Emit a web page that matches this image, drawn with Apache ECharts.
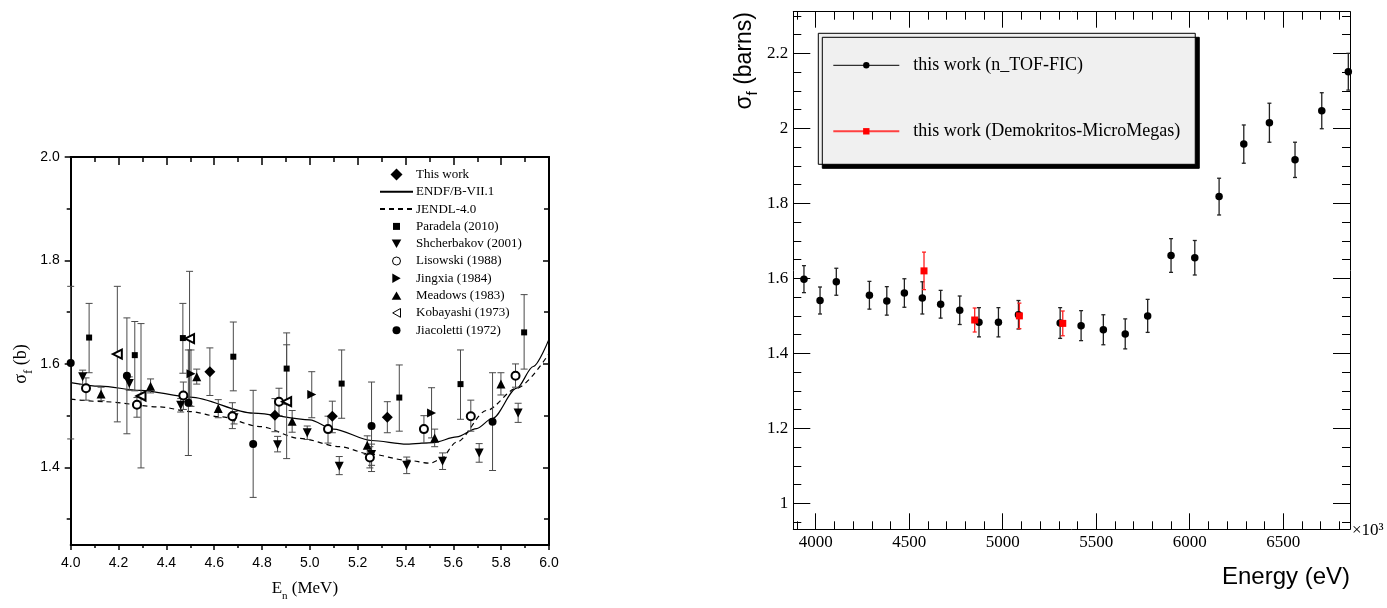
<!DOCTYPE html>
<html>
<head>
<meta charset="utf-8">
<script src="https://cdn.jsdelivr.net/npm/echarts@6/dist/echarts.min.js"></script>
<style>
  html, body { margin: 0; padding: 0; background: #fff; }
  #chart { width: 1387px; height: 608px; }
</style>
</head>
<body>
<div id="chart"></div>
<script>
// ---------- Left panel: fission cross section vs neutron energy (MeV) ----------
// rows: [E_n (MeV), sigma_f (b), lower end of error bar, upper end of error bar]
const thisWork = [
  [4.582, 1.585, 1.539, 1.631],
  [4.854, 1.501, 1.469, 1.533],
  [5.094, 1.499, 1.467, 1.528],
  [5.324, 1.497, 1.467, 1.527]
];
const paradela = [
  [4.077, 1.651, 1.583, 1.717],
  [4.268, 1.617, 1.548, 1.682],
  [4.469, 1.650, 1.582, 1.717],
  [4.680, 1.614, 1.548, 1.681],
  [4.903, 1.591, 1.522, 1.660],
  [5.133, 1.562, 1.495, 1.627],
  [5.374, 1.535, 1.470, 1.598],
  [5.630, 1.561, 1.493, 1.627],
  [5.896, 1.661, 1.590, 1.734]
];
const shcherbakov = [
  [4.050, 1.575, 1.560, 1.588],
  [4.245, 1.562, 1.549, 1.575],
  [4.460, 1.520, 1.507, 1.533],
  [4.683, 1.496, 1.484, 1.508],
  [4.865, 1.444, 1.430, 1.460],
  [4.989, 1.467, 1.454, 1.480],
  [5.123, 1.402, 1.386, 1.421],
  [5.258, 1.425, 1.404, 1.445],
  [5.405, 1.404, 1.388, 1.420],
  [5.555, 1.412, 1.396, 1.428],
  [5.708, 1.428, 1.410, 1.446],
  [5.871, 1.505, 1.487, 1.524]
];
const lisowski = [
  [4.064, 1.553, 1.530, 1.573],
  [4.277, 1.521, 1.497, 1.535],
  [4.471, 1.539, 1.512, 1.565],
  [4.676, 1.499, 1.475, 1.525],
  [4.871, 1.527, 1.500, 1.553],
  [5.076, 1.474, 1.447, 1.499],
  [5.251, 1.419, 1.399, 1.440],
  [5.477, 1.474, 1.447, 1.500],
  [5.673, 1.499, 1.470, 1.530],
  [5.860, 1.577, 1.555, 1.600]
];
const jingxia = [
  [4.503, 1.581, 1.518, 1.627],
  [5.008, 1.541, 1.496, 1.585],
  [5.509, 1.505, 1.457, 1.554]
];
const meadows = [
  [4.127, 1.542, 1.529, 1.555],
  [4.334, 1.557, 1.544, 1.571],
  [4.527, 1.575, 1.561, 1.590],
  [4.617, 1.514, 1.496, 1.531],
  [4.926, 1.489, 1.468, 1.510],
  [5.240, 1.443, 1.425, 1.461],
  [5.522, 1.457, 1.440, 1.474],
  [5.799, 1.561, 1.540, 1.583]
];
const kobayashi = [
  [4.195, 1.619, 1.488, 1.750],
  [4.294, 1.538, 1.399, 1.678],
  [4.497, 1.649, 1.519, 1.779],
  [4.903, 1.527, 1.417, 1.637]
];
const jiacoletti = [
  [4.000, 1.602, 1.455, 1.750],
  [4.235, 1.577, 1.465, 1.689],
  [4.492, 1.525, 1.423, 1.627],
  [4.763, 1.445, 1.342, 1.549],
  [5.258, 1.480, 1.392, 1.565],
  [5.764, 1.488, 1.394, 1.583]
];
// evaluated libraries: [E_n (MeV), sigma_f (b)]
const endfCurve = [
  [4.0, 1.564], [4.123, 1.557], [4.29, 1.549], [4.5, 1.536], [4.763, 1.505],
  [5.0, 1.492], [5.098, 1.474], [5.258, 1.452], [5.405, 1.445], [5.516, 1.448],
  [5.614, 1.459], [5.697, 1.475], [5.764, 1.495], [5.865, 1.553], [5.934, 1.595],
  [6.0, 1.648]
];
const jendlCurve = [
  [4.0, 1.532], [4.136, 1.527], [4.373, 1.517], [4.499, 1.508], [4.624, 1.498],
  [4.791, 1.479], [4.959, 1.456], [5.126, 1.440], [5.251, 1.426], [5.405, 1.414],
  [5.502, 1.408], [5.544, 1.415], [5.614, 1.449], [5.739, 1.510], [5.865, 1.553],
  [6.0, 1.620]
];
const leftXTicks = [4.0, 4.2, 4.4, 4.6, 4.8, 5.0, 5.2, 5.4, 5.6, 5.8, 6.0];
const leftYTicks = [1.4, 1.6, 1.8, 2.0];
const leftYMinorTicks = [1.3, 1.5, 1.7, 1.9];

// ---------- Right panel: n_TOF and Demokritos results (energy in eV x10^3) ----------
const ntofEnergy = [3937, 4023, 4110, 4287, 4380, 4474, 4570, 4668, 4770, 4873, 4977, 5084, 5307,
                    5419, 5538, 5655, 5775, 5900, 6027, 6157, 6289, 6426, 6563, 6706, 6848];
const ntofSigma  = [1.598, 1.541, 1.591, 1.555, 1.540, 1.561, 1.548, 1.531, 1.515, 1.483, 1.483, 1.503, 1.481,
                    1.474, 1.463, 1.452, 1.500, 1.661, 1.655, 1.818, 1.958, 2.015, 1.916, 2.047, 2.151];
const ntofError  = [0.036, 0.036, 0.036, 0.037, 0.038, 0.038, 0.043, 0.037, 0.038, 0.039, 0.039, 0.038, 0.041,
                    0.040, 0.040, 0.040, 0.044, 0.045, 0.046, 0.049, 0.051, 0.052, 0.047, 0.048, 0.049];
const mmEnergy = [4579, 4850, 5089, 5321];
const mmSigma  = [1.620, 1.489, 1.500, 1.480];
const mmError  = [0.050, 0.032, 0.034, 0.033];

const rightXTicks = [4000, 4500, 5000, 5500, 6000, 6500];
const rightYTicks = [1, 1.2, 1.4, 1.6, 1.8, 2, 2.2];
const rightXMinorTicks = [];
for (let v = 3900; v <= 6800; v += 100) rightXMinorTicks.push(v);
const rightYMinorTicks = [];
for (let k = 19; k <= 46; k++) rightYMinorTicks.push(Math.round(k * 5) / 100);

// ---------- helpers ----------
const SERIF = "'Liberation Serif', 'Times New Roman', serif";
const SANS = "'Liberation Sans', Arial, sans-serif";
const black = '#000';

// legend glyphs, drawn in a 12x12 box so every icon keeps its own size
const BOX = 'path://M0,0M12,12';
const legendIcons = {
  diamond: BOX + 'M0,6L6,0L12,6L6,12Z',
  square: BOX + 'M2.5,2.5L9.5,2.5L9.5,9.5L2.5,9.5Z',
  down: BOX + 'M1.2,1.8L10.8,1.8L6,10.2Z',
  up: BOX + 'M6,1.8L10.8,10.2L1.2,10.2Z',
  right: BOX + 'M1.8,1.2L10.2,6L1.8,10.8Z',
  left: BOX + 'M10,1.6L2.2,6L10,10.4Z',
  circle: BOX + 'M2,6A4,4,0,1,1,10,6A4,4,0,1,1,2,6Z'
};

function errorBarItem(capHalf, width) {
  return function (params, api) {
    const x = api.value(0);
    const lo = api.coord([x, api.value(1)]);
    const hi = api.coord([x, api.value(2)]);
    const style = { stroke: api.visual('color'), lineWidth: width, fill: null };
    return {
      type: 'group',
      children: [
        { type: 'line', shape: { x1: hi[0], y1: hi[1], x2: lo[0], y2: lo[1] }, style: style },
        { type: 'line', shape: { x1: hi[0] - capHalf, y1: hi[1], x2: hi[0] + capHalf, y2: hi[1] }, style: style },
        { type: 'line', shape: { x1: lo[0] - capHalf, y1: lo[1], x2: lo[0] + capHalf, y2: lo[1] }, style: style }
      ]
    };
  };
}

function leftDataset(name, rows, symbol, size, rotate) {
  const hollow = symbol.indexOf('empty') === 0;
  return [
    {
      type: 'custom', xAxisIndex: 0, yAxisIndex: 0, z: 3, silent: true,
      itemStyle: { color: '#4a4a4a' },
      renderItem: errorBarItem(3.5, 1),
      encode: { x: 0, y: [1, 2] },
      data: rows.map(r => [r[0], r[2], r[3]])
    },
    {
      type: 'scatter', name: name, xAxisIndex: 0, yAxisIndex: 0, z: 5, silent: true,
      symbol: symbol, symbolSize: size, symbolRotate: rotate || 0,
      itemStyle: { color: black, borderColor: black, borderWidth: hollow ? 1 : 0, opacity: 1 },
      data: rows.map(r => [r[0], r[1]])
    }
  ];
}

const leftAxisLine = { show: true, onZero: false, lineStyle: { color: black, width: 2 } };
const rightAxisLine = { show: true, onZero: false, lineStyle: { color: black, width: 1 } };
const hiddenIcon = { color: 'rgba(0,0,0,0)', borderWidth: 0, opacity: 0 };
const filledIcon = { color: black, borderWidth: 0, opacity: 1 };
const hollowIcon = { color: '#fff', borderColor: black, borderWidth: 1, opacity: 1 };

const option = {
  animation: false,
  backgroundColor: '#fff',
  grid: [
    { left: 70.7, top: 157, width: 478.3, height: 388, containLabel: false, outerBoundsMode: 'none' },
    { left: 793.3, top: 11.7, width: 556.7, height: 517.6, containLabel: false, outerBoundsMode: 'none' }
  ],
  xAxis: [
    { // left panel, bottom
      gridIndex: 0, type: 'value', position: 'bottom', min: 4, max: 6, interval: 0.2,
      axisLine: leftAxisLine,
      axisTick: { show: true, inside: false, length: 5, lineStyle: { color: black, width: 1.5 } },
      minorTick: { show: true, splitNumber: 2, length: 3, lineStyle: { color: black, width: 1.5 } },
      splitLine: { show: false }, minorSplitLine: { show: false },
      axisLabel: { customValues: leftXTicks, formatter: v => v.toFixed(1), fontFamily: SANS, fontSize: 14, color: black, margin: 11 },
      name: '{a|E}{b|n}{a| (MeV)}', nameLocation: 'middle', nameGap: 31,
      nameTextStyle: {
        padding: [0, 10, 0, 0],
        rich: {
          a: { fontFamily: SERIF, fontSize: 17, color: black, lineHeight: 26 },
          b: { fontFamily: SERIF, fontSize: 11, color: black, lineHeight: 11, verticalAlign: 'bottom' }
        }
      }
    },
    { // left panel, top mirror
      gridIndex: 0, type: 'value', position: 'top', min: 4, max: 6, interval: 0.2,
      axisLine: leftAxisLine,
      axisTick: { show: true, inside: true, length: 8, lineStyle: { color: black, width: 1.5 } },
      minorTick: { show: true, splitNumber: 2, length: 5, lineStyle: { color: black, width: 1.5 } },
      splitLine: { show: false }, axisLabel: { show: false }
    },
    { // right panel, bottom major
      gridIndex: 1, type: 'value', position: 'bottom', min: 3880, max: 6857,
      axisLine: rightAxisLine,
      axisTick: { show: true, inside: true, length: 16, customValues: rightXTicks, lineStyle: { color: black, width: 1 } },
      splitLine: { show: false },
      axisLabel: { customValues: rightXTicks, formatter: v => String(v), fontFamily: SERIF, fontSize: 17, color: black, margin: 5 }
    },
    { // right panel, bottom minor
      gridIndex: 1, type: 'value', position: 'bottom', min: 3880, max: 6857,
      axisLine: { show: false },
      axisTick: { show: true, inside: true, length: 8, customValues: rightXMinorTicks, lineStyle: { color: black, width: 1 } },
      splitLine: { show: false }, axisLabel: { show: false }
    },
    { // right panel, top major
      gridIndex: 1, type: 'value', position: 'top', min: 3880, max: 6857,
      axisLine: rightAxisLine,
      axisTick: { show: true, inside: true, length: 16, customValues: rightXTicks, lineStyle: { color: black, width: 1 } },
      splitLine: { show: false }, axisLabel: { show: false }
    },
    { // right panel, top minor
      gridIndex: 1, type: 'value', position: 'top', min: 3880, max: 6857,
      axisLine: { show: false },
      axisTick: { show: true, inside: true, length: 8, customValues: rightXMinorTicks, lineStyle: { color: black, width: 1 } },
      splitLine: { show: false }, axisLabel: { show: false }
    }
  ],
  yAxis: [
    { // left panel, left major
      gridIndex: 0, type: 'value', position: 'left', min: 1.25, max: 2.0,
      axisLine: leftAxisLine,
      axisTick: { show: true, inside: false, length: 6, customValues: leftYTicks, lineStyle: { color: black, width: 1.5 } },
      splitLine: { show: false },
      axisLabel: { customValues: leftYTicks, formatter: v => v.toFixed(1), fontFamily: SANS, fontSize: 14, color: black, margin: 11 },
      name: '{a|σ}{b|f}{a| (b)}', nameLocation: 'middle', nameGap: 36, nameRotate: 90,
      nameTextStyle: {
        padding: [0, 26, 0, 0],
        rich: {
          a: { fontFamily: SERIF, fontSize: 18, color: black, lineHeight: 26 },
          b: { fontFamily: SERIF, fontSize: 13, color: black, lineHeight: 13, verticalAlign: 'bottom' }
        }
      }
    },
    { // left panel, left minor
      gridIndex: 0, type: 'value', position: 'left', min: 1.25, max: 2.0,
      axisLine: { show: false },
      axisTick: { show: true, inside: false, length: 4, customValues: leftYMinorTicks, lineStyle: { color: black, width: 1.5 } },
      splitLine: { show: false }, axisLabel: { show: false }
    },
    { // left panel, right mirror major
      gridIndex: 0, type: 'value', position: 'right', min: 1.25, max: 2.0,
      axisLine: leftAxisLine,
      axisTick: { show: true, inside: true, length: 6, customValues: leftYTicks, lineStyle: { color: black, width: 1.5 } },
      splitLine: { show: false }, axisLabel: { show: false }
    },
    { // left panel, right mirror minor
      gridIndex: 0, type: 'value', position: 'right', min: 1.25, max: 2.0,
      axisLine: { show: false },
      axisTick: { show: true, inside: true, length: 5, customValues: leftYMinorTicks, lineStyle: { color: black, width: 1.5 } },
      splitLine: { show: false }, axisLabel: { show: false }
    },
    { // right panel, left major
      gridIndex: 1, type: 'value', position: 'left', min: 0.931, max: 2.311,
      axisLine: rightAxisLine,
      axisTick: { show: true, inside: true, length: 17, customValues: rightYTicks, lineStyle: { color: black, width: 1 } },
      splitLine: { show: false },
      axisLabel: { customValues: rightYTicks, formatter: v => String(v), fontFamily: SERIF, fontSize: 17, color: black, margin: 5 }
    },
    { // right panel, left minor
      gridIndex: 1, type: 'value', position: 'left', min: 0.931, max: 2.311,
      axisLine: { show: false },
      axisTick: { show: true, inside: true, length: 8, customValues: rightYMinorTicks, lineStyle: { color: black, width: 1 } },
      splitLine: { show: false }, axisLabel: { show: false }
    },
    { // right panel, right major
      gridIndex: 1, type: 'value', position: 'right', min: 0.931, max: 2.311,
      axisLine: rightAxisLine,
      axisTick: { show: true, inside: true, length: 17, customValues: rightYTicks, lineStyle: { color: black, width: 1 } },
      splitLine: { show: false }, axisLabel: { show: false }
    },
    { // right panel, right minor
      gridIndex: 1, type: 'value', position: 'right', min: 0.931, max: 2.311,
      axisLine: { show: false },
      axisTick: { show: true, inside: true, length: 8, customValues: rightYMinorTicks, lineStyle: { color: black, width: 1 } },
      splitLine: { show: false }, axisLabel: { show: false }
    }
  ],
  legend: [
    {
      orient: 'vertical', left: 379, top: 167, padding: 0,
      itemWidth: 33, itemHeight: 12, itemGap: 2.3, selectedMode: false, symbolKeepAspect: true,
      textStyle: { fontFamily: SERIF, fontSize: 13, color: black, lineHeight: 15, padding: [0, 0, 0, -2] },
      data: [
        { name: 'This work', icon: legendIcons.diamond, itemStyle: filledIcon },
        { name: 'ENDF/B-VII.1', itemStyle: hiddenIcon },
        { name: 'JENDL-4.0', itemStyle: hiddenIcon },
        { name: 'Paradela (2010)', icon: legendIcons.square, itemStyle: filledIcon },
        { name: 'Shcherbakov (2001)', icon: legendIcons.down, itemStyle: filledIcon },
        { name: 'Lisowski (1988)', icon: legendIcons.circle, itemStyle: hollowIcon },
        { name: 'Jingxia (1984)', icon: legendIcons.right, itemStyle: filledIcon },
        { name: 'Meadows (1983)', icon: legendIcons.up, itemStyle: filledIcon },
        { name: 'Kobayashi (1973)', icon: legendIcons.left, itemStyle: hollowIcon },
        { name: 'Jiacoletti (1972)', icon: legendIcons.circle, itemStyle: filledIcon }
      ]
    },
    {
      orient: 'vertical', left: 818.3, top: 33.3, padding: [22, 15, 23, 14],
      itemWidth: 66, itemHeight: 8, itemGap: 46, selectedMode: false,
      backgroundColor: '#f0f0f0', borderColor: black, borderWidth: 1,
      shadowColor: black, shadowBlur: 0, shadowOffsetX: 4, shadowOffsetY: 4,
      textStyle: { fontFamily: SERIF, fontSize: 18, color: black, lineHeight: 20, padding: [0, 0, 0, 9] },
      data: [
        { name: 'this work (n_TOF-FIC)', lineStyle: { opacity: 1, width: 1, color: black } },
        { name: 'this work (Demokritos-MicroMegas)', lineStyle: { opacity: 1, width: 2, color: '#ff4040' } }
      ]
    }
  ],
  graphic: [
    {
      type: 'text', x: 745, y: 12, rotation: Math.PI / 2, silent: true,
      style: {
        text: '{a|σ}{b|f}{a| (barns)}', align: 'right', verticalAlign: 'middle',
        rich: {
          a: { fontFamily: SANS, fontSize: 23, fill: black, lineHeight: 30 },
          b: { fontFamily: SANS, fontSize: 15, fill: black, lineHeight: 15, verticalAlign: 'bottom' }
        }
      }
    },
    {
      type: 'text', x: 1350, y: 577, silent: true,
      style: { text: 'Energy (eV)', fontFamily: SANS, fontSize: 24, fill: black, align: 'right', verticalAlign: 'middle' }
    },
    {
      type: 'text', x: 1352, y: 531, silent: true,
      style: { text: '×10³', fontFamily: SERIF, fontSize: 17, fill: black, align: 'left', verticalAlign: 'middle' }
    }
  ],
  series: [
    {
      type: 'line', name: 'ENDF/B-VII.1', xAxisIndex: 0, yAxisIndex: 0, z: 2, silent: true,
      data: endfCurve, symbol: 'none', smooth: 0.3, smoothMonotone: 'x',
      lineStyle: { color: black, width: 1.2, type: 'solid' }, itemStyle: { color: black }
    },
    {
      type: 'line', name: 'JENDL-4.0', xAxisIndex: 0, yAxisIndex: 0, z: 2, silent: true,
      data: jendlCurve, symbol: 'none', smooth: 0.3, smoothMonotone: 'x',
      lineStyle: { color: black, width: 1.2, type: [5, 4] }, itemStyle: { color: black }
    },
    ...leftDataset('This work', thisWork, 'diamond', 11),
    ...leftDataset('Paradela (2010)', paradela, 'rect', 6),
    ...leftDataset('Shcherbakov (2001)', shcherbakov, 'triangle', 9, 180),
    ...leftDataset('Lisowski (1988)', lisowski, 'emptyCircle', 8),
    ...leftDataset('Jingxia (1984)', jingxia, 'triangle', 9, -90),
    ...leftDataset('Meadows (1983)', meadows, 'triangle', 9),
    ...leftDataset('Kobayashi (1973)', kobayashi, 'emptyTriangle', 9, 90),
    ...leftDataset('Jiacoletti (1972)', jiacoletti, 'circle', 8),

    {
      type: 'custom', xAxisIndex: 2, yAxisIndex: 4, z: 3, silent: true,
      itemStyle: { color: '#222' },
      renderItem: errorBarItem(2, 1.3),
      encode: { x: 0, y: [1, 2] },
      data: ntofEnergy.map((e, i) => [e, ntofSigma[i] - ntofError[i], ntofSigma[i] + ntofError[i]])
    },
    {
      type: 'line', name: 'this work (n_TOF-FIC)', xAxisIndex: 2, yAxisIndex: 4, z: 5, silent: true,
      data: ntofEnergy.map((e, i) => [e, ntofSigma[i]]),
      symbol: 'circle', symbolSize: 7.5, showSymbol: true,
      lineStyle: { opacity: 0, width: 0 }, itemStyle: { color: black }
    },
    {
      type: 'custom', xAxisIndex: 2, yAxisIndex: 4, z: 4, silent: true,
      itemStyle: { color: '#ff2020' },
      renderItem: errorBarItem(2, 1.3),
      encode: { x: 0, y: [1, 2] },
      data: mmEnergy.map((e, i) => [e, mmSigma[i] - mmError[i], mmSigma[i] + mmError[i]])
    },
    {
      type: 'line', name: 'this work (Demokritos-MicroMegas)', xAxisIndex: 2, yAxisIndex: 4, z: 6, silent: true,
      data: mmEnergy.map((e, i) => [e, mmSigma[i]]),
      symbol: 'rect', symbolSize: 7, showSymbol: true,
      lineStyle: { opacity: 0, width: 0 }, itemStyle: { color: '#ff0000' }
    }
  ]
};

const chart = echarts.init(document.getElementById('chart'));
chart.setOption(option);
</script>
</body>
</html>
